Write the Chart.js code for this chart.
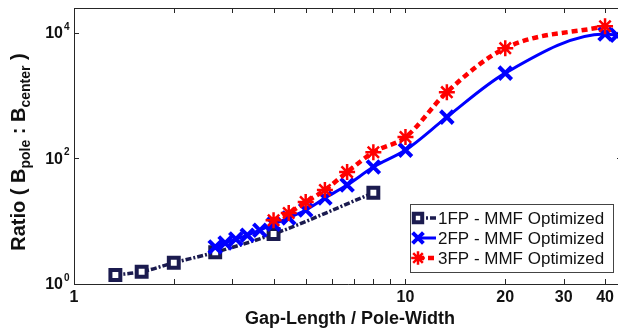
<!DOCTYPE html>
<html><head><meta charset="utf-8">
<style>html,body{margin:0;padding:0;background:#fff;overflow:hidden}#wrap{width:622px;height:331px}</style>
<script src="https://cdn.jsdelivr.net/npm/chart.js@4"></script>
</head><body><div id="wrap"><canvas id="c" width="622" height="331"></canvas></div>
<script>
// ---- data ----
const xTickValues = [1,2,3,4,5,6,7,8,9,10,20,30,40];
const xTickLabels = ['1','10','20','30','40'];
const xTickLabelValues = [1,10,20,30,40];
const yTickExponents = [0,2,4];
const seriesNames = ['1FP - MMF Optimized','2FP - MMF Optimized','3FP - MMF Optimized'];
const x1FP = [1.333,1.6,2,2.667,4,8];
const y1FP = [1.39,1.57,2.18,3.2,6.25,28.4];
const x2FP = [2.667,2.857,3.077,3.333,3.636,4,4.444,5,5.714,6.667,8,10,13.33,20,40,43.5];
const y2FP = [3.9,4.5,5.2,6.0,7.2,9.0,11.3,15.1,23.4,37.7,73,136,456,2290,9600,9200];
const x3FP = [4,4.444,5,5.714,6.667,8,10,13.33,20,40];
const y3FP = [10.4,13.5,20.2,31.4,60.7,126,219,1140,5730,12800];
const xTitle = 'Gap-Length / Pole-Width';

const navy = '#1b1b4f', blue = '#0000ff', red = '#ff0000';
const toXY = (xs, ys) => xs.map((x, i) => ({x: x, y: ys[i]}));

const styles = [
  {color: navy, dash: [6,2,2,2], width: 3.5, pointStyle: 'rect', radius: 7, pbw: 4, fill: '#ffffff'},
  {color: blue, dash: [], width: 3, pointStyle: 'crossRot', radius: 9, pbw: 4, fill: blue},
  {color: red, dash: [6,4], width: 4.5, pointStyle: 'star', radius: 8, pbw: 2.5, fill: red}
];

const overlay = {
  id: 'overlay',
  afterDraw(chart) {
    const ctx = chart.ctx, xs = chart.scales.x, ys = chart.scales.y, a = chart.chartArea;
    ctx.save();
    // axes box
    ctx.strokeStyle = '#262626'; ctx.lineWidth = 1; ctx.setLineDash([]);
    ctx.beginPath();
    ctx.moveTo(a.left + 0.5, a.top + 0.5); ctx.lineTo(a.left + 0.5, a.bottom + 0.5);
    ctx.lineTo(a.right, a.bottom + 0.5);
    ctx.moveTo(a.left, a.top + 0.5); ctx.lineTo(a.right, a.top + 0.5);
    ctx.moveTo(a.right - 0.5, a.top); ctx.lineTo(a.right - 0.5, a.bottom);
    // x ticks inward
    xTickValues.forEach(v => {
      const px = Math.round(xs.getPixelForValue(v)) + 0.5;
      ctx.moveTo(px, a.bottom); ctx.lineTo(px, a.bottom - 5);
      ctx.moveTo(px, a.top); ctx.lineTo(px, a.top + 5);
    });
    yTickExponents.forEach(e => {
      const py = Math.round(ys.getPixelForValue(Math.pow(10, e))) + 0.5;
      ctx.moveTo(a.left, py); ctx.lineTo(a.left + 5, py);
      ctx.moveTo(a.right, py); ctx.lineTo(a.right - 5, py);
    });
    ctx.stroke();

    ctx.fillStyle = '#111';
    // x tick labels
    ctx.font = 'bold 16px "Liberation Sans", Arial, sans-serif';
    ctx.textAlign = 'center'; ctx.textBaseline = 'middle';
    xTickLabelValues.forEach((v, i) => {
      ctx.fillText(xTickLabels[i], xs.getPixelForValue(v), a.bottom + 14);
    });
    // y tick labels 10^e
    yTickExponents.forEach(e => {
      const py = ys.getPixelForValue(Math.pow(10, e));
      ctx.font = 'bold 16px "Liberation Sans", Arial, sans-serif';
      ctx.textAlign = 'right'; ctx.textBaseline = 'middle';
      ctx.fillText('10', a.left - 11, py + 1);
      ctx.font = 'bold 10px "Liberation Sans", Arial, sans-serif';
      ctx.textAlign = 'left';
      ctx.fillText(String(e), a.left - 10, py - 6);
    });
    // x title
    ctx.font = 'bold 18px "Liberation Sans", Arial, sans-serif';
    ctx.textAlign = 'center'; ctx.textBaseline = 'middle';
    ctx.fillText(xTitle, 350, a.bottom + 35);
    // y title with subscripts
    const parts = [['Ratio ( B', 0], ['pole', 1], [' : B', 0], ['center', 1], [' )', 0]];
    const mainF = 'bold 20px "Liberation Sans", Arial, sans-serif';
    const subF = 'bold 14px "Liberation Sans", Arial, sans-serif';
    let w = 0;
    parts.forEach(p => { ctx.font = p[1] ? subF : mainF; w += ctx.measureText(p[0]).width; });
    ctx.translate(25, 152); ctx.rotate(-Math.PI / 2);
    ctx.textAlign = 'left'; ctx.textBaseline = 'alphabetic';
    let x = -w / 2;
    parts.forEach(p => {
      ctx.font = p[1] ? subF : mainF;
      ctx.fillText(p[0], x, p[1] ? 5 : 0);
      x += ctx.measureText(p[0]).width;
    });
    ctx.restore();

    // legend
    ctx.save();
    ctx.fillStyle = '#fff'; ctx.strokeStyle = '#444'; ctx.lineWidth = 1;
    ctx.fillRect(410, 204, 203, 68);
    ctx.strokeRect(410.5, 204.5, 203, 68);
    seriesNames.forEach((name, i) => {
      const st = styles[i], ly = 218 + i * 20;
      ctx.strokeStyle = st.color; ctx.lineWidth = st.width; ctx.setLineDash(st.dash);
      ctx.beginPath(); ctx.moveTo(418, ly); ctx.lineTo(436, ly); ctx.stroke();
      ctx.setLineDash([]);
      ctx.strokeStyle = st.color; ctx.fillStyle = st.fill; ctx.lineWidth = st.pbw;
      Chart.helpers.drawPoint(ctx, {pointStyle: st.pointStyle, radius: st.radius * 0.85, borderWidth: st.pbw, rotation: 0}, 418, ly);
      ctx.fillStyle = '#111';
      ctx.font = '17px "Liberation Sans", Arial, sans-serif';
      ctx.textAlign = 'left'; ctx.textBaseline = 'middle';
      ctx.fillText(name, 438, ly + 1);
    });
    ctx.restore();
  }
};

const mk = (i, xs, ys, order, mode) => ({
  label: seriesNames[i], data: toXY(xs, ys), order: order,
  borderColor: styles[i].color, backgroundColor: styles[i].fill,
  borderWidth: styles[i].width, borderDash: styles[i].dash,
  pointStyle: styles[i].pointStyle, pointRadius: styles[i].radius,
  pointBorderWidth: styles[i].pbw, pointBorderColor: styles[i].color,
  pointBackgroundColor: styles[i].fill, tension: 0.4,
  cubicInterpolationMode: mode, clip: false
});

new Chart(document.getElementById('c'), {
  type: 'line',
  data: {datasets: [
    mk(2, x3FP, y3FP, 0, 'monotone'),
    mk(1, x2FP, y2FP, 1, 'monotone'),
    mk(0, x1FP, y1FP, 2, 'monotone')
  ]},
  options: {
    responsive: false, animation: false, devicePixelRatio: 1,
    layout: {autoPadding: false, padding: {top: 8, left: 0, right: 0, bottom: 0}},
    plugins: {legend: {display: false}, tooltip: {enabled: false}},
    scales: {
      x: {type: 'logarithmic', min: 1, max: 45, grid: {display: false}, border: {display: false},
          ticks: {display: false}, afterFit(s) { s.height = 47; }},
      y: {type: 'logarithmic', min: 1, max: 25000, grid: {display: false}, border: {display: false},
          ticks: {display: false}, afterFit(s) { s.width = 74; }}
    }
  },
  plugins: [overlay]
});
</script></body></html>
